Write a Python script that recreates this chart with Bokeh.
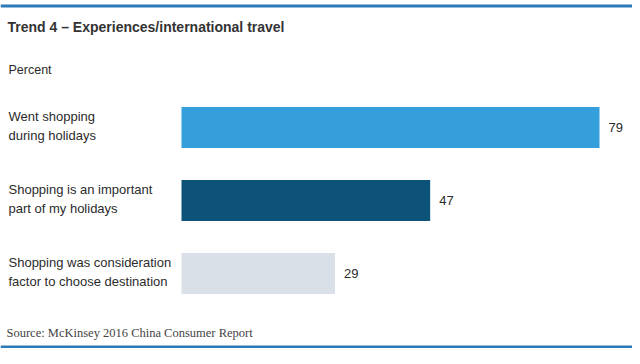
from bokeh.plotting import figure
from bokeh.models import Range1d, Label, Span, ColumnDataSource
from bokeh.core.properties import value
from bokeh.embed import file_html
from bokeh.resources import INLINE

# ---- data ----
categories = ["Went shopping\nduring holidays",
              "Shopping is an important\npart of my holidays",
              "Shopping was consideration\nfactor to choose destination"]
values = [79, 47, 29]
bar_colors = ["#349fda", "#0c5279", "#d9e0e7"]
title_text = "Trend 4 \u2013 Experiences/international travel"
unit_text = "Percent"
source_text = "Source: McKinsey 2016 China Consumer Report"

# ---- layout helpers (pixels -> data) ----
W, H = 632, 348
X0PX = 181.0          # pixel position of value 0
PXU = 418.0 / 79.0    # pixels per unit
ROW0, ROWSTEP = 127.0, 73.0

def xd(fx):
    return (fx - X0PX) / PXU

def yd(fy):
    return (fy - ROW0) / ROWSTEP

p = figure(width=W, height=H, output_backend="svg", toolbar_location=None,
           x_range=Range1d(xd(0), xd(W)), y_range=Range1d(yd(H), yd(0)),
           x_axis_type=None, y_axis_type=None, min_border=0)
p.grid.grid_line_color = None
p.outline_line_color = None
p.background_fill_color = "white"
p.border_fill_color = "white"

idx = list(range(len(values)))
src = ColumnDataSource(dict(y=idx, v=values, c=bar_colors, cat=categories,
                            lab=[str(v) for v in values], x0=[xd(8)] * len(values)))

p.hbar(y="y", left=0, right="v", height=41 / ROWSTEP, fill_color="c",
       line_color=None, source=src)

p.text(x="v", y="y", text="lab", source=src, x_offset=9, text_baseline="middle",
       text_align="left", text_font=value("Liberation Sans"), text_font_size="13px",
       text_color="#2b2b2b")

p.text(x="x0", y="y", text="cat", source=src, y_offset=-1.5, text_baseline="middle",
       text_align="left", text_font=value("Liberation Sans"), text_font_size="13px",
       text_color="#2b2b2b", text_line_height=1.25)

p.add_layout(Label(x=xd(7), y=yd(26), text=title_text, text_baseline="middle",
                   text_font="Liberation Sans", text_font_style="bold",
                   text_font_size="14px", text_color="#333333"))
p.add_layout(Label(x=xd(8), y=yd(69), text=unit_text, text_baseline="middle",
                   text_font="Liberation Sans", text_font_size="12.5px",
                   text_color="#2b2b2b"))
p.add_layout(Label(x=xd(6), y=yd(332), text=source_text, text_baseline="middle",
                   text_font="Liberation Serif", text_font_size="12.5px",
                   text_color="#444444"))

p.add_layout(Span(location=yd(5.5), dimension="width", line_color="#2a7ab9", line_width=3))
p.add_layout(Span(location=yd(346.5), dimension="width", line_color="#2a7ab9", line_width=3))

open("out.html", "w").write(file_html(p, INLINE))
